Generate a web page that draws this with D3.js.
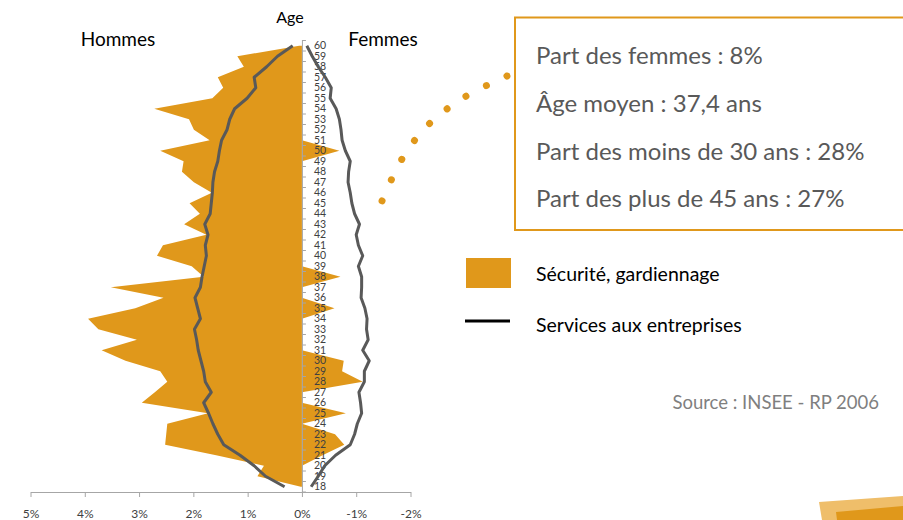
<!DOCTYPE html>
<html>
<head>
<meta charset="utf-8">
<script src="https://cdn.jsdelivr.net/npm/d3@7"></script>
<style>
  body { margin: 0; background: #fff; }
  svg { display: block; font-family: Lato, "Open Sans", sans-serif; }
</style>
</head>
<body>
<div id="vis"></div>
<script>
const WIDTH = 903;
const HEIGHT = 520;
const ORANGE = "#e0981b";

// ages 18 -> 60, parts en %
const AGES = d3.range(18, 61);
const SECU_HOMMES = [0.02, 0.82, 0.70, 1.58, 2.52, 2.50, 2.48, 1.73, 2.95, 2.71,
                     2.48, 2.61, 3.25, 3.69, 3.04, 3.75, 3.94, 3.07, 2.55, 3.52,
                     1.81, 2.03, 2.67, 2.56, 1.76, 2.17, 1.88, 2.07, 1.66, 1.99,
                     2.21, 2.18, 2.61, 1.70, 1.99, 2.08, 2.72, 1.65, 1.45, 1.55,
                     1.07, 1.19, 0.05];
const SECU_FEMMES = [0, 0, 0, 0.38, 0.78, 0.61, 0, 0.81, 0, 0,
                     1.12, 0.74, 0.77, 0, 0, 0, 0, 0.60, 0, 0,
                     0.71, 0, 0, 0, 0, 0, 0, 0, 0, 0,
                     0, 0, 0.69, 0, 0, 0, 0, 0, 0, 0,
                     0, 0, 0];
const SERV_HOMMES = [0.32, 0.67, 0.88, 1.14, 1.44, 1.55, 1.64, 1.72, 1.81, 1.67,
                     1.78, 1.81, 1.86, 1.91, 1.94, 1.98, 1.87, 1.92, 1.97, 1.87,
                     1.84, 1.80, 1.76, 1.78, 1.73, 1.79, 1.69, 1.67, 1.65, 1.64,
                     1.61, 1.55, 1.52, 1.48, 1.38, 1.33, 1.24, 1.01, 0.85, 0.88,
                     0.65, 0.45, 0.17];
const SERV_FEMMES = [0.17, 0.30, 0.42, 0.62, 0.89, 0.97, 1.02, 1.10, 1.08, 1.05,
                     1.15, 1.15, 1.24, 1.12, 1.22, 1.19, 1.20, 1.16, 1.09, 1.10,
                     1.10, 1.04, 1.12, 1.04, 1.00, 1.06, 0.97, 0.92, 0.89, 0.85,
                     0.86, 0.89, 0.80, 0.74, 0.72, 0.69, 0.63, 0.52, 0.54, 0.43,
                     0.30, 0.19, 0.09];

const X_TICKS = [5, 4, 3, 2, 1, 0, -1, -2];
const X_LABELS = ["5%", "4%", "3%", "2%", "1%", "0%", "-1%", "-2%"];
const STATS = ["Part des femmes : 8%", "Âge moyen : 37,4 ans",
               "Part des moins de 30 ans : 28%", "Part des plus de 45 ans : 27%"];
const LEGEND = ["Sécurité, gardiennage", "Services aux entreprises"];

const FRAME = d3.select("#vis")
  .append("svg")
    .attr("width", WIDTH)
    .attr("height", HEIGHT);

const X_SCALE = d3.scaleLinear().domain([5, -2]).range([30.5, 410.5]);
const Y_SCALE = d3.scaleBand().domain(AGES.slice().reverse()).range([40.5, 492]);
const yc = (a) => Y_SCALE(a) + Y_SCALE.bandwidth() / 2;

const rows = AGES.map((a, i) => ({
  age: a, sh: SECU_HOMMES[i], sf: SECU_FEMMES[i], vh: SERV_HOMMES[i], vf: SERV_FEMMES[i]
}));

// aires orange (hommes à gauche, femmes à droite)
const areaH = d3.area().y((d) => yc(d.age)).x0(X_SCALE(0)).x1((d) => X_SCALE(d.sh));
const areaF = d3.area().y((d) => yc(d.age)).x0(X_SCALE(0)).x1((d) => X_SCALE(-d.sf));
FRAME.append("path").datum(rows).attr("d", areaH).attr("fill", ORANGE);
FRAME.append("path").datum(rows).attr("d", areaF).attr("fill", ORANGE);

// axe des âges
const yAxis = FRAME.append("g")
  .attr("transform", `translate(${X_SCALE(0)},0)`)
  .call(d3.axisRight(Y_SCALE).tickSize(0).tickPadding(12).tickSizeOuter(0));
yAxis.select(".domain").attr("stroke", "#a6a6a6");
yAxis.selectAll("text").attr("font-size", 10.5).attr("fill", "#404040")
  .attr("font-family", "Lato, sans-serif");
FRAME.append("g").selectAll("line")
  .data(AGES.concat([null]))
  .enter().append("line")
    .attr("x1", X_SCALE(0)).attr("x2", X_SCALE(0) + 4)
    .attr("y1", (d) => d === null ? Y_SCALE.range()[1] : Y_SCALE(d))
    .attr("y2", (d) => d === null ? Y_SCALE.range()[1] : Y_SCALE(d))
    .attr("stroke", "#a6a6a6");

// axe horizontal
const xAxis = FRAME.append("g")
  .attr("transform", `translate(0,${Y_SCALE.range()[1]})`)
  .call(d3.axisBottom(X_SCALE).tickValues(X_TICKS)
    .tickFormat((d, i) => X_LABELS[i]).tickSize(5).tickSizeOuter(0).tickPadding(12));
xAxis.selectAll("line, .domain").attr("stroke", "#a6a6a6");
xAxis.selectAll("text").attr("font-size", 12).attr("fill", "#404040")
  .attr("font-family", "Lato, sans-serif");

// courbes services aux entreprises
const lineH = d3.line().x((d) => X_SCALE(d.vh)).y((d) => yc(d.age));
const lineF = d3.line().x((d) => X_SCALE(-d.vf)).y((d) => yc(d.age));
[lineH, lineF].forEach((ln) => {
  FRAME.append("path").datum(rows).attr("d", ln)
    .attr("fill", "none").attr("stroke", "#595959")
    .attr("stroke-width", 3).attr("stroke-linejoin", "round");
});

// titres
FRAME.append("text").attr("x", 290).attr("y", 23).attr("text-anchor", "middle")
  .attr("font-size", 16).attr("fill", "#000").text("Age");
FRAME.append("text").attr("x", 118).attr("y", 46).attr("text-anchor", "middle")
  .attr("font-size", 19).attr("fill", "#000").text("Hommes");
FRAME.append("text").attr("x", 383).attr("y", 46).attr("text-anchor", "middle")
  .attr("font-size", 19).attr("fill", "#000").text("Femmes");

// pointillés vers l'encadré
const dots = [[507, 76], [463, 98], [427, 126], [402, 159], [382, 201]];
const dotPath = FRAME.append("path")
  .attr("d", d3.line().curve(d3.curveCatmullRom)(dots))
  .attr("fill", "none").attr("stroke", ORANGE).attr("stroke-width", 7)
  .attr("stroke-linecap", "round");
const dotGap = (dotPath.node().getTotalLength() - 0.5) / 8;
dotPath.attr("stroke-dasharray", `0.01 ${dotGap - 0.01}`);

// encadré
FRAME.append("rect").attr("x", 515).attr("y", 17.5).attr("width", 420).attr("height", 212.5)
  .attr("fill", "none").attr("stroke", ORANGE).attr("stroke-width", 2);
FRAME.append("g").selectAll("text")
  .data(STATS).enter().append("text")
    .attr("x", 536).attr("y", (d, i) => 64 + i * 47.8)
    .attr("font-size", 24).attr("fill", "#595959").text((d) => d);

// légende
FRAME.append("rect").attr("x", 466).attr("y", 258).attr("width", 45).attr("height", 30)
  .attr("fill", ORANGE);
FRAME.append("line").attr("x1", 465).attr("x2", 510).attr("y1", 321).attr("y2", 321)
  .attr("stroke", "#000").attr("stroke-width", 3);
FRAME.append("g").selectAll("text")
  .data(LEGEND).enter().append("text")
    .attr("x", 536).attr("y", (d, i) => 281 + i * 51)
    .attr("font-size", 19.5).attr("fill", "#000").text((d) => d);

FRAME.append("text").attr("x", 879).attr("y", 409).attr("text-anchor", "end")
  .attr("font-size", 18.5).attr("fill", "#7f7f7f").text("Source : INSEE - RP 2006");

// décor bas droite
FRAME.append("polygon").attr("points", "819,502 903,496 903,520 822,520")
  .attr("fill", "#efbe6a");
FRAME.append("polygon").attr("points", "836,512 903,506 903,520 837,520")
  .attr("fill", ORANGE);
</script>
</body>
</html>
